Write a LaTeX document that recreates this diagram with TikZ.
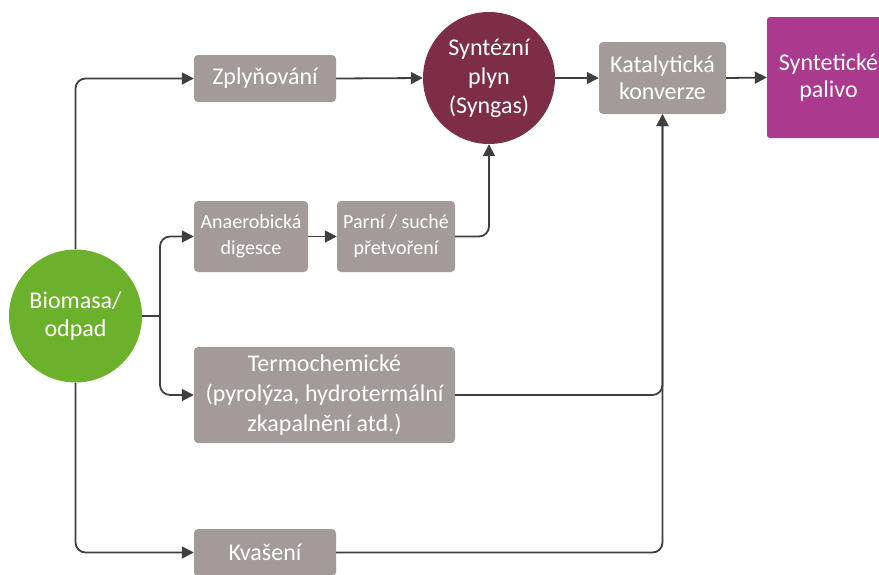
\documentclass[tikz,border=0pt]{standalone}
\usepackage{fontspec}
\setmainfont{Carlito}
\usetikzlibrary{arrows.meta}
\definecolor{boxgray}{HTML}{A39B97}
\definecolor{biogreen}{HTML}{6CB12B}
\definecolor{synred}{HTML}{7E2D47}
\definecolor{fuelpurple}{HTML}{A93A8E}
\definecolor{linegray}{HTML}{3F3F3F}
\begin{document}
\begin{tikzpicture}[x=1pt,y=-1pt,
  procbox/.style={rectangle, rounded corners=4pt, fill=boxgray, text=white, inner sep=0pt, align=center, font=\fontsize{24}{27}\selectfont},
  smallbox/.style={procbox, font=\fontsize{20}{26}\selectfont},
  bigcirc/.style={circle, inner sep=0pt, text=white, align=center, font=\fontsize{24}{28}\selectfont},
  conn/.style={draw=linegray, line width=1.8pt, rounded corners=10pt},
  arr/.style={conn, -{Triangle[length=12pt,width=12pt]}}]
\useasboundingbox (0,0) rectangle (879,574);
\clip (0,0) rectangle (879,574);
% nodes
\node[bigcirc, fill=biogreen, minimum size=133pt] (bio) at (75.5,316) {Biomasa/\\odpad};
\node[procbox, minimum width=142pt, minimum height=47pt] (zply) at (265,78.5) {Zplyňování};
\node[bigcirc, fill=synred, minimum size=132pt, font=\fontsize{24}{29}\selectfont] (syn) at (489,78) {Syntézní\\plyn\\(Syngas)};
\node[procbox, minimum width=127pt, minimum height=72pt] (kat) at (662.5,78) {Katalytická\\konverze};
\node[rectangle, rounded corners=3pt, fill=fuelpurple, text=white, inner sep=0pt, align=center, font=\fontsize{24}{27}\selectfont, minimum width=123pt, minimum height=121pt] (pal) at (828.5,77.5) {Syntetické\\palivo};
\node[smallbox, minimum width=114pt, minimum height=71pt] (ana) at (251,236.5) {Anaerobická\\digesce};
\node[smallbox, minimum width=118pt, minimum height=71pt] (par) at (396,236.5) {Parní / suché\\přetvoření};
\node[procbox, minimum width=261pt, minimum height=96pt, font=\fontsize{24}{30}\selectfont] (term) at (324.5,395) {Termochemické\\(pyrolýza, hydrotermální\\zkapalnění atd.)};
\node[procbox, minimum width=142pt, minimum height=47pt] (kva) at (265,552.5) {Kvašení};
\coordinate (br) at (160,316);
% connectors
\draw[arr] (bio.north) |- (zply.west);
\draw[arr] (bio.south) |- (kva.west);
\draw[conn] (bio.east) -- (br);
\draw[arr] (br) |- (ana.west);
\draw[arr] (br) |- (term.west);
\draw[arr] (zply.east) -- (syn.west);
\draw[arr] (syn.east) -- (kat.west);
\draw[arr] (kat.east) -- (pal.west);
\draw[arr] (ana.east) -- (par.west);
\draw[arr] (par.east) -| (syn.south);
\draw[arr] (term.east) -| (kat.south);
\draw[arr] (kva.east) -| (kat.south);
\end{tikzpicture}
\end{document}
